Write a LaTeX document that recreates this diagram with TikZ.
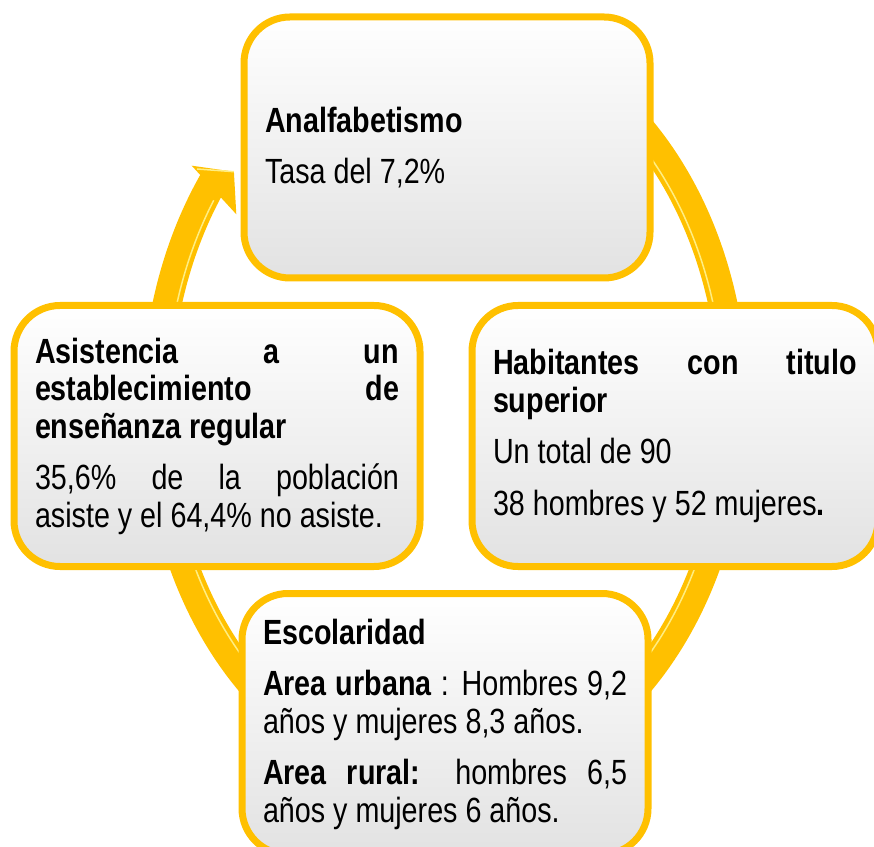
\documentclass[tikz,border=0pt]{standalone}
\usepackage{fontspec}
\setmainfont{Liberation Sans}[FakeStretch=0.82]
\hyphenpenalty=10000
\definecolor{cus-gold}{RGB}{255,192,0}
\definecolor{cus-light}{RGB}{255,238,130}
\definecolor{cus-gray}{RGB}{226,226,226}
\tikzset{infobox/.style={rectangle, rounded corners=46pt, draw=cus-gold, line width=7pt,
  top color=white, middle color=white, bottom color=cus-gray,
  minimum width=406pt, minimum height=261pt, text width=364pt, inner sep=0pt,
  align=justify, font=\fontsize{35}{37.5}\selectfont}}
\newcommand{\blockgap}{\par\vspace{14pt}}

\begin{document}
\begin{tikzpicture}[x=1pt, y=1pt]
\useasboundingbox (0,0) rectangle (874,846);
% ring with arrow
\coordinate (hub) at (445,441);
\draw [cus-gold, line width=29pt] (hub) ++(100:288.5 and 375.5)
  arc [start angle=100, end angle=-217, x radius=288.5, y radius=375.5];
\draw [cus-light, line width=1.5pt] (hub) ++(100:279 and 366)
  arc [start angle=100, end angle=-214, x radius=279, y radius=366];
\coordinate (tip) at (233.9,674.3);
\fill [cus-gold] (191.7,680.3) -- (tip) -- (236.3,631.7) -- cycle;
\draw [cus-light, line width=1.5pt] (197,677) -- (tip);
% boxes
\node [infobox] (analf) at (447,698.5) {\textbf{Analfabetismo}\blockgap Tasa del 7,2\%};
\node [infobox] (titulo) at (675,410) {\textbf{Habitantes con titulo\linebreak superior}\blockgap
  Un total de 90\blockgap 38 hombres y 52 mujeres\textbf{.}};
\node [infobox] (escolar) at (445,122) {\textbf{Escolaridad}\blockgap
  \textbf{Area urbana} : Hombres 9,2\linebreak años y mujeres 8,3 años.\blockgap
  \textbf{Area rural:} hombres 6,5\linebreak años y mujeres 6 años.};
\node [infobox] (asist) at (217,410) {\textbf{Asistencia a un\linebreak establecimiento de\linebreak enseñanza regular}\blockgap
  35,6\% de la población\linebreak asiste y el 64,4\% no asiste.};
\end{tikzpicture}
\end{document}
